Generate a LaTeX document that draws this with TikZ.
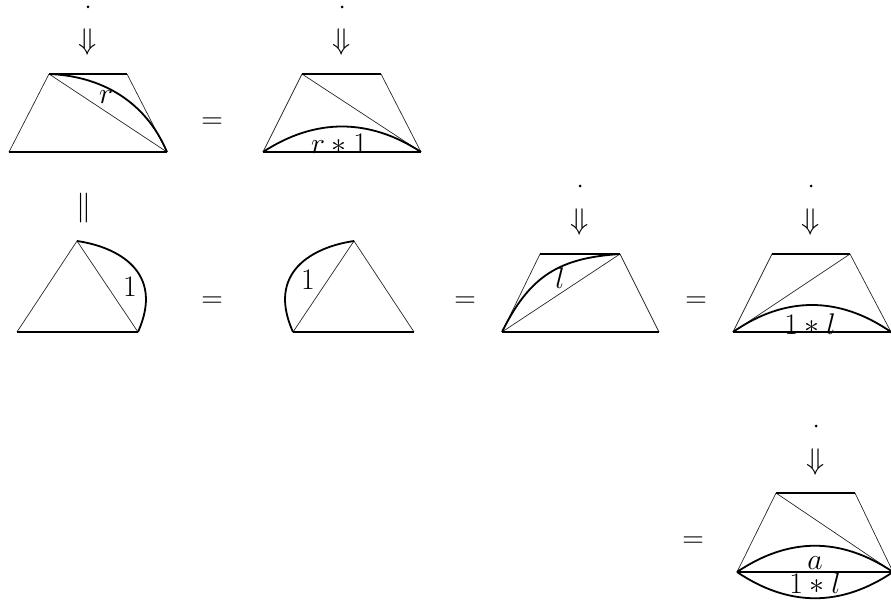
\documentclass[tikz,border=0pt]{standalone}
\begin{document}
\begin{tikzpicture}[x=1pt,y=-1pt,
  thin line/.style={line width=0.7pt,black!85},
  thick line/.style={line width=1.8pt,black},
  mid line/.style={line width=1.2pt,black},
  lab/.style={inner sep=0pt,scale=1.2,font=\fontsize{24.88}{30}\selectfont},
  sym/.style={inner sep=0pt,scale=1.2,font=\fontsize{24.88}{30}\selectfont},
  dotmark/.style={circle,fill=black,inner sep=0pt,minimum size=3pt}]
\useasboundingbox (0,0) rectangle (891,604);
% column heads
\foreach \n/\x/\yd/\ya in {a/88/7/42,b/342/7/42,c/580/186/222,d/811/186/222,e/816/426/462}{
  \node[dotmark] (dot\n) at (\x,\yd) {};
  \node[sym] (arr\n) at (\x,\ya) {$\Downarrow$};
}
\node[sym] (par) at (84,208) {$\|$};
% equals
\foreach \n/\x/\y in {1/212/123,2/212/302,3/465/302,4/696/302,5/693/542}{
  \node[sym] (eq\n) at (\x,\y) {$=$};
}
% trapezoid 1
\coordinate (a1) at (9,152); \coordinate (a2) at (167,152); \coordinate (a3) at (127,74); \coordinate (a4) at (49,74);
\draw[thin line] (a1)--(a4) (a3)--(a2) (a4)--(a2);
\draw[thick line] (a1)--(a2);
\draw[mid line] (a4)--(a3);
\draw[thick line] (a4) .. controls (100,76) and (145,100) .. (a2);
\node[lab] (r) at (106,97) {$r$};
% trapezoid 2
\coordinate (b1) at (263,152); \coordinate (b2) at (421,152); \coordinate (b3) at (381,74); \coordinate (b4) at (302,74);
\node[lab,anchor=base] (r1) at (339,154) {$r*1$};
\draw[thin line] (b1)--(b4) (b3)--(b2) (b4)--(b2);
\draw[thick line] (b1)--(b2);
\draw[mid line] (b4)--(b3);
\draw[thick line] (b1) .. controls (315,118) and (369,118) .. (b2);
% triangle 3
\coordinate (c1) at (17,332); \coordinate (c2) at (138,332); \coordinate (c3) at (77,241);
\draw[thin line] (c1)--(c3)--(c2);
\draw[mid line] (c1)--(c2);
\draw[thick line] (c3) .. controls (118,247) and (165,272) .. (c2);
\node[lab] (one1) at (130,287) {$1$};
% triangle 4
\coordinate (d1) at (293,332); \coordinate (d2) at (414,332); \coordinate (d3) at (354,241);
\draw[thin line] (d2)--(d3)--(d1);
\draw[mid line] (d1)--(d2);
\draw[thick line] (d3) .. controls (313,247) and (266,272) .. (d1);
\node[lab] (one2) at (308,280) {$1$};
% trapezoid 5
\coordinate (e1) at (502,332); \coordinate (e2) at (659,332); \coordinate (e3) at (620,254); \coordinate (e4) at (540,254);
\draw[thin line] (e1)--(e4) (e3)--(e2) (e1)--(e3);
\draw[mid line] (e1)--(e2);
\draw[thick line] (e4)--(e3);
\draw[thick line] (e1) .. controls (530,275) and (560,258) .. (e3);
\node[lab] (l) at (560,278) {$l$};
% trapezoid 6
\coordinate (f1) at (733,332); \coordinate (f2) at (891,332); \coordinate (f3) at (850,254); \coordinate (f4) at (772,254);
\node[lab,anchor=base] (ol) at (810,334) {$1*l$};
\draw[thin line] (f1)--(f4) (f3)--(f2) (f1)--(f3);
\draw[thick line] (f1)--(f2);
\draw[thick line] (f4)--(f3);
\draw[thick line] (f1) .. controls (785,296) and (839,296) .. (f2);
% trapezoid 7
\coordinate (g1) at (737,572); \coordinate (g2) at (893,572); \coordinate (g3) at (855,493); \coordinate (g4) at (776,493);
\draw[thin line] (g1)--(g4) (g3)--(g2) (g4)--(g2);
\draw[mid line] (g1)--(g2);
\draw[line width=2pt] (g4)--(g3);
\draw[thick line] (g1) .. controls (789,537) and (841,537) .. (g2);
\draw[thick line] (g1) .. controls (789,607) and (841,607) .. (g2);
\node[lab,anchor=base] (aa) at (815,569) {$a$};
\node[lab,anchor=base] (ol2) at (815,593) {$1*l$};
\end{tikzpicture}
\end{document}
